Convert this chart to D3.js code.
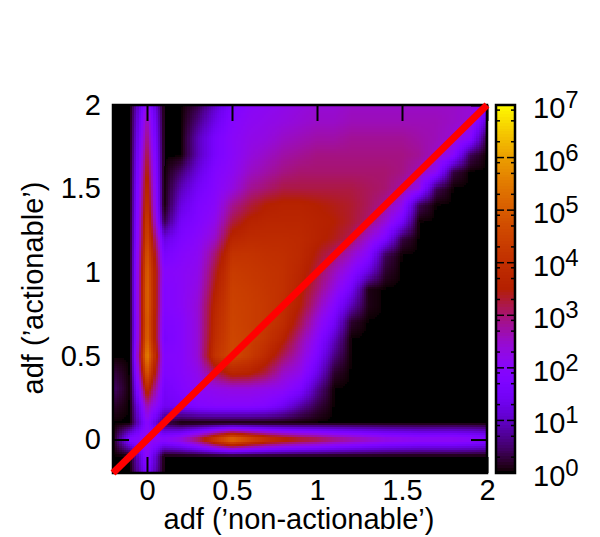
<!DOCTYPE html>
<html>
<head>
<meta charset="utf-8">
<script src="https://cdn.jsdelivr.net/npm/d3@7"></script>
<style>
  html, body { margin: 0; padding: 0; background: #fff; }
  text { font-family: "Liberation Sans", Arial, sans-serif; fill: #000; }
</style>
</head>
<body>
<div id="graph-pane"></div>
<script>
// bin centres on both axes
var xBins = [-0.2,-0.1,0,0.1,0.2,0.3,0.4,0.5,0.6,0.7,0.8,0.9,1,1.1,1.2,1.3,1.4,1.5,1.6,1.7,1.8,1.9,2];
var yBins = [2,1.9,1.8,1.7,1.6,1.5,1.4,1.3,1.2,1.1,1,0.9,0.8,0.7,0.6,0.5,0.4,0.3,0.2,0.1,0,-0.1,-0.2];

// log10(count), one row per yBins entry
var logCounts = [
  [0,0,2.2,0,0,0.3,1.0,1.7,2.0,2.1,2.2,2.3,2.4,2.4,2.5,2.5,2.5,2.5,2.5,2.5,2.5,2.4,2.0],
  [0,0,2.7,0,0,0.6,1.3,1.9,2.1,2.2,2.3,2.4,2.5,2.5,2.6,2.6,2.6,2.6,2.6,2.6,2.5,2.4,1.0],
  [0,0,3.0,0,0,0.9,1.6,2.0,2.2,2.3,2.5,2.6,2.7,2.7,2.8,2.8,2.8,2.8,2.7,2.6,2.4,1.9,0.2],
  [0,0,3.3,0,0,0.9,1.6,2.0,2.3,2.5,2.7,2.8,2.9,2.9,2.9,2.9,2.9,2.9,2.8,2.5,2.0,0.4,0],
  [0,0,3.6,0,0.5,1.2,1.8,2.1,2.5,2.7,2.9,3.0,3.0,3.0,3.0,3.0,3.0,2.9,2.6,2.1,0.3,0,0],
  [0,0,3.9,0,0.9,1.5,1.9,2.3,2.8,3.0,3.2,3.2,3.2,3.2,3.2,3.1,3.0,2.7,2.2,0.4,0,0,0],
  [0,0,4.1,0,1.2,1.7,2.0,2.8,3.2,3.5,3.6,3.6,3.5,3.4,3.3,3.1,2.8,2.2,0.4,0,0,0,0],
  [0,0,4.4,0.3,1.5,1.8,2.2,3.2,3.6,3.7,3.7,3.7,3.6,3.5,3.3,3.0,2.4,1.5,0,0,0,0,0],
  [0,0,4.6,1.2,1.7,2.0,2.5,3.7,3.85,3.85,3.85,3.8,3.6,3.4,3.1,2.4,1.7,0.3,0,0,0,0,0],
  [0,0,4.9,1.6,1.9,2.1,3.0,4.1,4.1,4.0,3.95,3.8,3.4,3.0,2.5,1.9,0.4,0,0,0,0,0,0],
  [0,0,5.1,1.9,2.0,2.2,3.3,4.3,4.2,4.1,4.0,3.7,3.2,2.6,2.0,1.2,0.2,0,0,0,0,0,0],
  [0,0,5.2,1.8,2.0,2.3,3.5,4.4,4.3,4.15,4.0,3.6,3.0,2.3,1.5,0.1,0,0,0,0,0,0,0],
  [0,0,5.2,1.8,2.0,2.4,3.7,4.45,4.35,4.2,3.95,3.5,2.7,1.9,0.9,0.1,0,0,0,0,0,0,0],
  [0,0,5.1,1.7,1.9,2.4,3.8,4.5,4.35,4.2,3.9,3.2,2.3,1.5,0.2,0,0,0,0,0,0,0,0],
  [0,0,5.2,1.6,1.9,2.4,3.9,4.55,4.4,4.1,3.6,2.8,2.0,1.0,0,0,0,0,0,0,0,0,0],
  [0,0,5.7,1.8,1.9,2.4,4.1,4.6,4.3,3.8,3.1,2.5,1.7,0.6,0,0,0,0,0,0,0,0,0],
  [0.3,0,4.9,1.7,1.9,2.2,3.1,3.7,3.6,3.2,2.5,2.2,1.3,0.2,0,0,0,0,0,0,0,0,0],
  [0.5,0,3.9,1.5,1.8,2.1,2.2,2.3,2.3,2.2,2.1,1.7,0.7,0,0,0,0,0,0,0,0,0,0],
  [0.2,0,2.7,1.4,1.5,1.8,1.9,1.9,1.9,1.8,1.4,0.8,0.3,0,0,0,0,0,0,0,0,0,0],
  [0,0,2.0,0.3,0,0,0,0,0,0,0,0,0,0,0,0,0,0,0,0,0,0,0],
  [0,1.8,2.2,2.0,2.4,3.2,4.4,5.4,4.8,4.2,3.8,3.5,3.3,3.0,2.8,2.6,2.4,2.3,2.2,2.2,2.2,2.1,1.9],
  [0,0,2.1,0,0,0,0,0,0,0,0,0,0,0,0,0,0,0,0,0,0,0,0],
  [0,0,1.6,0,0,0,0,0,0,0,0,0,0,0,0,0,0,0,0,0,0,0,0]
];

var xTicks = [0,0.5,1,1.5,2];
var yTicks = [0,0.5,1,1.5,2];
var cbTicks = [0,1,2,3,4,5,6,7];
var cbMinor = [2,5,8];
var diagonal = [-0.2,2];

var margin = {top: 105, left: 113},
    width = 374,
    height = 368;

var svg = d3.select("#graph-pane").append("svg")
    .attr("width", 600)
    .attr("height", 537)
    .style("display", "block");

var plot = svg.append("g")
    .attr("transform", "translate(" + margin.left + "," + margin.top + ")");

var x = d3.scaleLinear().domain([-0.2,2]).range([0,width]);
var y = d3.scaleLinear().domain([-0.2,2]).range([height,0]);

// gnuplot palette rgbformulae 7,5,15 over 10^0..10^7
var palette = d3.scaleSequential(function(t){
  var r = Math.sqrt(t), g = t*t*t, b = Math.max(0, Math.sin(2*Math.PI*t));
  return d3.rgb(r*255, g*255, b*255).formatRgb();
}).domain([0,7]);

// pm3d interpolate: split every bin square into sub cells
var subdiv = 8;
var cells = [];
for (var j = 0; j < yBins.length-1; j++) {
  for (var i = 0; i < xBins.length-1; i++) {
    for (var a = 0; a < subdiv; a++) {
      for (var b = 0; b < subdiv; b++) {
        var u = (a+0.5)/subdiv, v = (b+0.5)/subdiv;
        var val = logCounts[j][i]*(1-u)*(1-v) + logCounts[j][i+1]*u*(1-v)
                + logCounts[j+1][i]*(1-u)*v + logCounts[j+1][i+1]*u*v;
        cells.push({
          x0: xBins[i] + a/subdiv*(xBins[i+1]-xBins[i]),
          x1: xBins[i] + (a+1)/subdiv*(xBins[i+1]-xBins[i]),
          y0: yBins[j] + b/subdiv*(yBins[j+1]-yBins[j]),
          y1: yBins[j] + (b+1)/subdiv*(yBins[j+1]-yBins[j]),
          v: val
        });
      }
    }
  }
}

plot.append("rect")
    .attr("width", width)
    .attr("height", height)
    .attr("fill", "#000");

plot.append("g").attr("shape-rendering", "crispEdges")
  .selectAll("rect")
  .data(cells.filter(function(d){ return d.v > 0.02; }))
  .enter().append("rect")
    .attr("x", function(d){ return x(d.x0); })
    .attr("y", function(d){ return y(d.y0); })
    .attr("width", function(d){ return x(d.x1) - x(d.x0) + 0.5; })
    .attr("height", function(d){ return y(d.y1) - y(d.y0) + 0.5; })
    .attr("fill", function(d){ return palette(d.v); });

// ticks on all four sides, drawn inward
plot.append("g").attr("transform", "translate(0," + height + ")")
    .call(d3.axisBottom(x).tickValues(xTicks).tickSizeInner(-16).tickSizeOuter(0).tickPadding(6)
      .tickFormat(function(d){ return d; }));
plot.append("g")
    .call(d3.axisTop(x).tickValues(xTicks).tickSizeInner(-16).tickSizeOuter(0).tickFormat(""));
plot.append("g")
    .call(d3.axisLeft(y).tickValues(yTicks).tickSizeInner(-16).tickSizeOuter(0).tickPadding(12)
      .tickFormat(function(d){ return d; }));
plot.append("g").attr("transform", "translate(" + width + ",0)")
    .call(d3.axisRight(y).tickValues(yTicks).tickSizeInner(-16).tickSizeOuter(0).tickFormat(""));

plot.selectAll(".tick line").attr("stroke", "#000").attr("stroke-width", 2);
plot.selectAll(".domain").remove();
plot.selectAll(".tick text").attr("font-size", 29);

plot.append("rect")
    .attr("width", width)
    .attr("height", height)
    .attr("fill", "none")
    .attr("stroke", "#000")
    .attr("stroke-width", 2.5);

// x = y line
plot.append("path")
    .datum(diagonal)
    .attr("d", d3.line().x(function(d){ return x(d); }).y(function(d){ return y(d); }))
    .attr("stroke", "#ff0000")
    .attr("stroke-width", 7)
    .attr("stroke-linecap", "butt")
    .attr("fill", "none");

// axis titles
svg.append("text")
    .attr("x", 299).attr("y", 529)
    .attr("text-anchor", "middle")
    .attr("font-size", 29)
    .text("adf (’non-actionable’)");
svg.append("text")
    .attr("transform", "translate(43,288) rotate(-90)")
    .attr("text-anchor", "middle")
    .attr("font-size", 29)
    .text("adf (’actionable’)");

// colour box
var cbW = 19;
var cb = svg.append("g").attr("transform", "translate(496," + margin.top + ")");
var c = d3.scaleLinear().domain([0,7]).range([height,0]);
var cbSteps = d3.range(0, 7, 7/128);

cb.append("g").attr("shape-rendering", "crispEdges")
  .selectAll("rect")
  .data(cbSteps)
  .enter().append("rect")
    .attr("y", function(d){ return c(d + 7/128); })
    .attr("width", cbW)
    .attr("height", function(d){ return c(d) - c(d + 7/128) + 0.5; })
    .attr("fill", function(d){ return palette(d); });

var minors = [];
cbTicks.slice(0,-1).forEach(function(t){
  cbMinor.forEach(function(m){ minors.push(t + Math.log10(m)); });
});

[0, cbW].forEach(function(side){
  var sign = side ? -1 : 1;
  cb.append("g").selectAll("line").data(cbTicks).enter().append("line")
    .attr("x1", side).attr("x2", side + sign*8)
    .attr("y1", function(d){ return c(d); }).attr("y2", function(d){ return c(d); })
    .attr("stroke", "#000").attr("stroke-width", 1.5);
  cb.append("g").selectAll("line").data(minors).enter().append("line")
    .attr("x1", side).attr("x2", side + sign*4)
    .attr("y1", function(d){ return c(d); }).attr("y2", function(d){ return c(d); })
    .attr("stroke", "#000").attr("stroke-width", 1.5);
});

cb.append("rect")
    .attr("width", cbW)
    .attr("height", height)
    .attr("fill", "none")
    .attr("stroke", "#000")
    .attr("stroke-width", 2.5);

var cbLabels = cb.append("g").selectAll("text").data(cbTicks).enter().append("text")
    .attr("x", 37)
    .attr("y", function(d){ return c(d) + 13; })
    .attr("font-size", 29);
cbLabels.append("tspan").text("10");
cbLabels.append("tspan")
    .attr("dy", -10)
    .attr("font-size", 24)
    .text(function(d){ return d; });
</script>
</body>
</html>
